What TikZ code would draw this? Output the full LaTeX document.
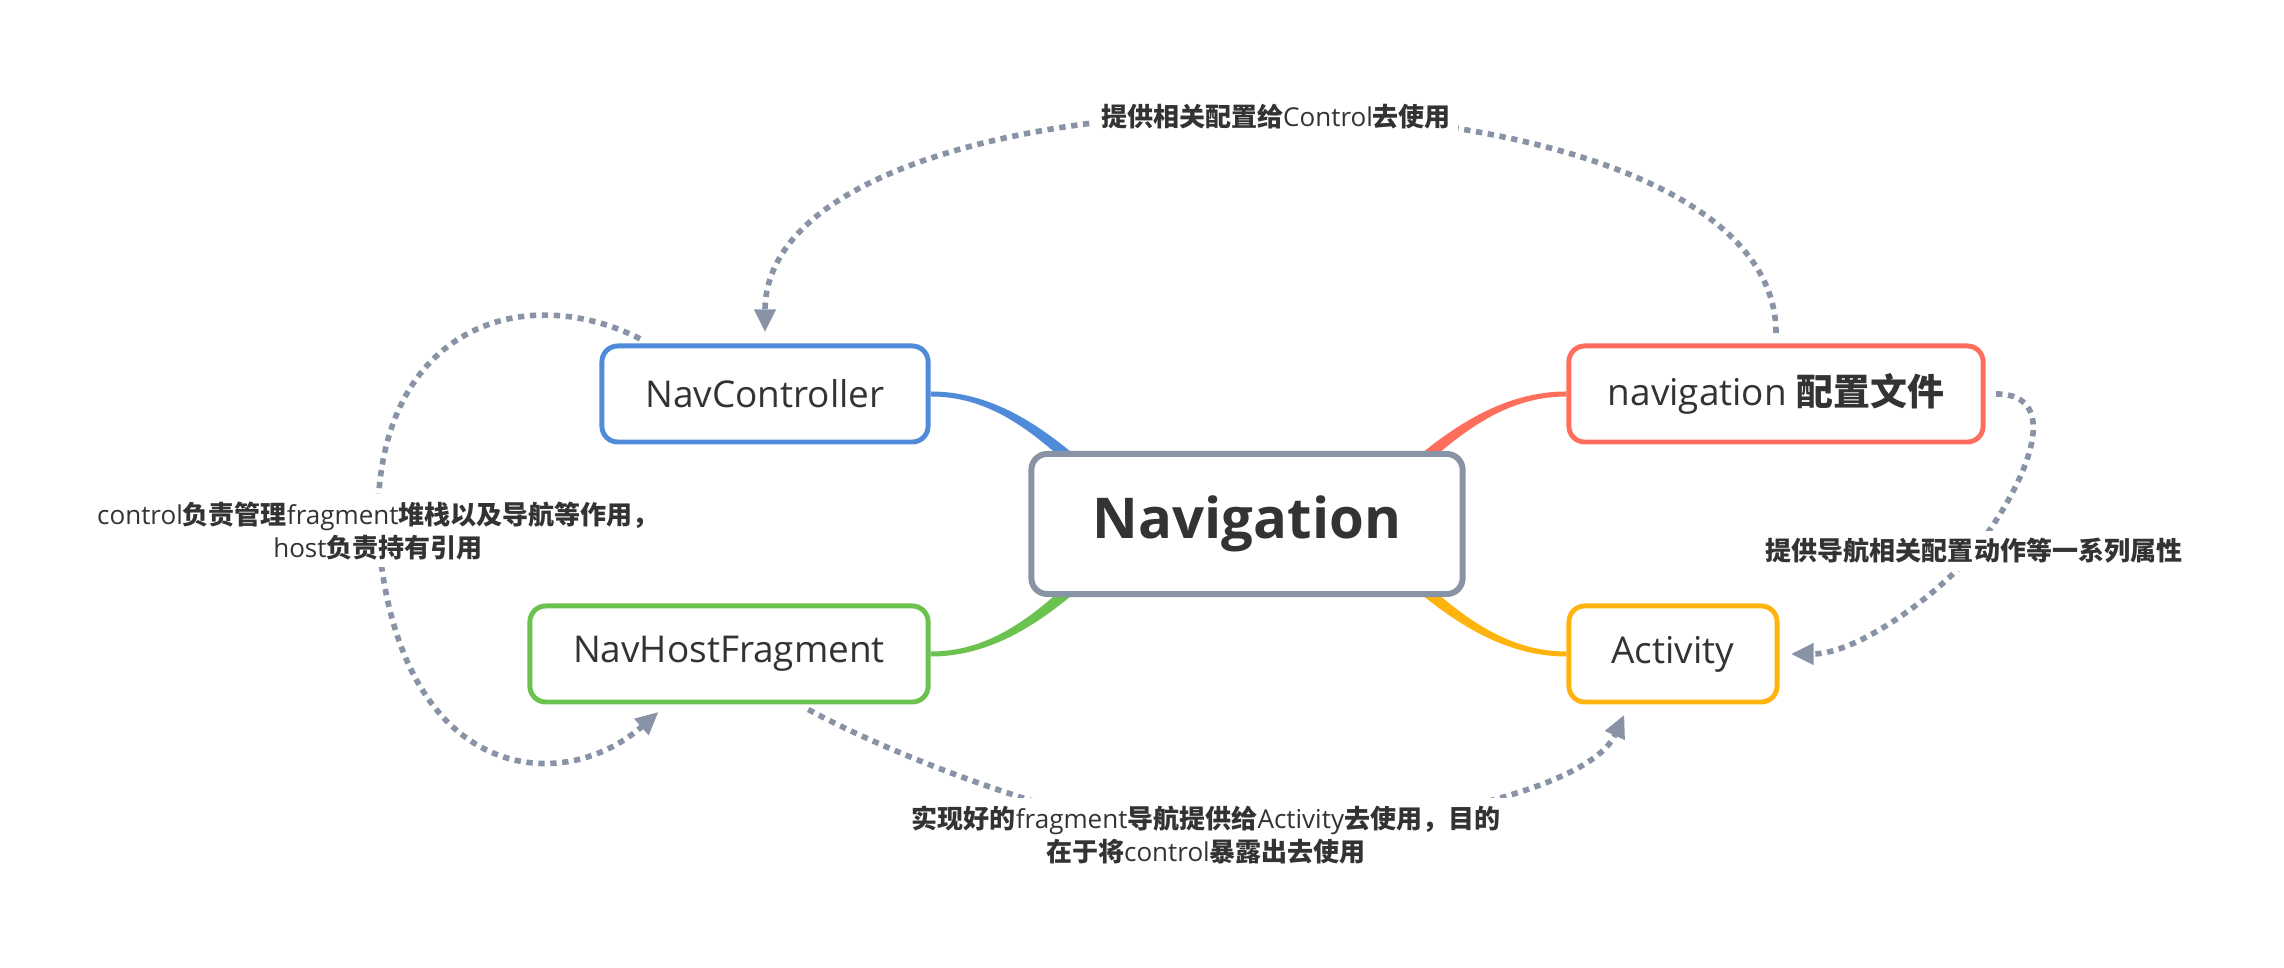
\documentclass[tikz,border=0pt]{standalone}
\usepackage{fontspec}
\setmainfont{Open Sans}
\newfontfamily\cjk{Noto Sans CJK SC}
\newcommand\zh[1]{{\cjk\bfseries #1}}
\usetikzlibrary{arrows.meta,calc,backgrounds}
\definecolor{cblue}{HTML}{4F8BD8}
\definecolor{cred}{HTML}{FF6E5D}
\definecolor{cgreen}{HTML}{6CC24F}
\definecolor{cyellow}{HTML}{FFB30F}
\definecolor{cgray}{HTML}{8893A6}
\definecolor{ctext}{HTML}{333333}
\tikzset{
  box/.style={draw, fill=white, rounded corners=4.5pt, line width=1.4pt, minimum height=0.96cm, inner sep=0pt, text=ctext, font=\fontsize{10.5pt}{12pt}\selectfont},
  note/.style={fill=white, inner sep=2pt, align=center, text=ctext, font=\fontsize{7.4pt}{9.6pt}\selectfont},
  dotline/.style={draw=cgray, line width=1.6pt, dash pattern=on 1.8pt off 1.6pt, -{Triangle[length=6.5pt,width=5.8pt]}, shorten <=3pt, shorten >=3.2pt},
}
\begin{document}
\begin{tikzpicture}[x=0.01cm,y=-0.01cm]
\useasboundingbox (0,0) rectangle (2284,968);
\node[box, draw=cgray, line width=1.7pt, minimum width=4.31cm, minimum height=1.40cm, font=\fontsize{16pt}{19pt}\selectfont\bfseries] (nav) at (1247,524) {Navigation};
\node[box, draw=cblue, minimum width=3.26cm] (ctrl) at (765,394) {NavController};
\node[box, draw=cgreen, minimum width=3.98cm] (host) at (729,654) {NavHostFragment};
\node[box, draw=cred, minimum width=4.14cm] (conf) at (1776,394) {navigation \zh{配置文件}};
\node[box, draw=cyellow, minimum width=2.08cm] (act) at (1673,654) {Activity};

\node[note] (lbltop) at (1276,117) {\zh{提供相关配置给}Control\zh{去使用}};
\node[note] (lblright) at (1974,551) {\zh{提供导航相关配置动作等一系列属性}};
\node[note] (lblleft) at (378,531) {control\zh{负责管理}fragment\zh{堆栈以及导航等作用，}\\host\zh{负责持有引用}};
\node[note] (lblbottom) at (1206,835) {\zh{实现好的}fragment\zh{导航提供给}Activity\zh{去使用，目的}\\\zh{在于将}control\zh{暴露出去使用}};

\begin{pgfonlayer}{background}
\fill[cblue] ($(ctrl.east)+(0,2.5)$) .. controls +(70,0) and +(-50,-45) .. ($(nav.center)+(-151,-34.5)$) -- ($(nav.center)+(-143,-43.5)$) .. controls +(-50,-45) and +(70,0) .. ($(ctrl.east)+(0,-2.5)$) -- cycle;
\fill[cred] ($(conf.west)+(0,-2.5)$) .. controls +(-70,0) and +(50,-45) .. ($(nav.center)+(143,-43.5)$) -- ($(nav.center)+(151,-34.5)$) .. controls +(50,-45) and +(-70,0) .. ($(conf.west)+(0,2.5)$) -- cycle;
\fill[cgreen] ($(host.east)+(0,2.5)$) .. controls +(70,0) and +(-50,45) .. ($(nav.center)+(-143,43.5)$) -- ($(nav.center)+(-151,34.5)$) .. controls +(-50,45) and +(70,0) .. ($(host.east)+(0,-2.5)$) -- cycle;
\fill[cyellow] ($(act.west)+(0,2.5)$) .. controls +(-70,0) and +(50,45) .. ($(nav.center)+(143,43.5)$) -- ($(nav.center)+(151,34.5)$) .. controls +(50,45) and +(-70,0) .. ($(act.west)+(0,-2.5)$) -- cycle;

\draw[dotline] (conf.north) .. controls +(0,-300) and +(0,-300) .. (ctrl.north);
\draw[dotline] (conf.east) .. controls +(81,0) and +(50,-63) .. (lblright.center) .. controls +(-31,39.5) and +(80,0) .. (act.east);
\draw[dotline] ($(ctrl.north west)+(50,0)$) .. controls +(-129,-65) and +(-6,-201) .. (lblleft.center) .. controls +(17,249) and +(-108,95) .. ($(host.south)+(-62,0)$);
\draw[dotline] ($(host.south)+(70,0)$) .. controls +(101,55) and +(-106,0) .. (lblbottom.center) .. controls +(124,5) and +(-44,96) .. ($(act.south)+(-44,0)$);
\end{pgfonlayer}
\end{tikzpicture}
\end{document}
